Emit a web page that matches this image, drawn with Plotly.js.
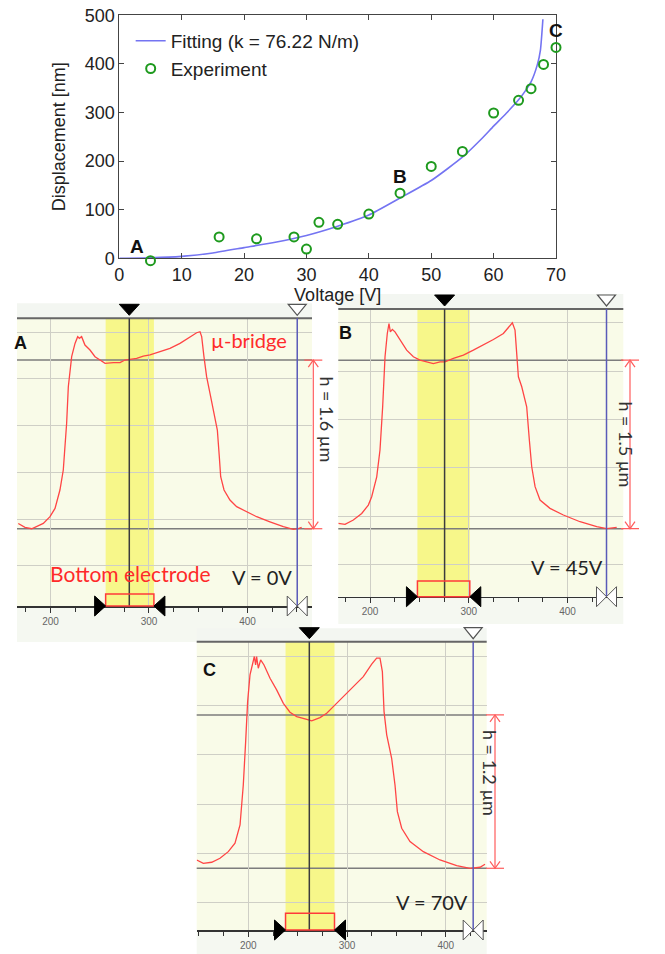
<!DOCTYPE html>
<html><head><meta charset="utf-8">
<script src="https://cdn.plot.ly/plotly-3.0.1.min.js"></script>
<style>html,body{margin:0;padding:0;background:#fff;} #chart{width:665px;height:954px;}</style>
</head><body><div id="chart"></div>
<script>
// ---------- Top chart: displacement vs voltage ----------
const voltage = [5,16,22,28,30,32,35,40,45,50,55,60,64,66,68,70];
const displacement = [-5,44,40,44,19,74,70,91,134,189,220,299,325,349,399,434];
const fitVoltage = [0,5,10,15,20,25,30,35,40,45,50,55,58,60,62,64,65,66,67,67.5,67.9];
const fitDisplacement = [0,1,4,11,22,33,47,66,89,124,160,208,245,272,298,326,343,363,398,428,492];
const stateLabels = ['A','B','C'];
const stateVoltage = [2.8,45,70];
const stateDisplacement = [25,168,469];

// ---------- Profiles (lateral position, height in µm) ----------
const profileA_x = [167.3,174.1,180.9,192.7,199.5,204.6,209.6,213,216.4,218.1,221.5,224.9,227.6,229.3,231.6,235,240.1,245.2,250.3,255.4,263.8,270.6,275.6,280.7,287.5,294.2,301,311.2,321.3,331.5,341.6,348.4,351.8,353.5,355.8,358.5,362.6,367,369.4,371.4,372.8,376.2,382.2,389,399.2,409.3,422.8,436.4,446.5,451.6,455];
const profileA_h = [0.05,0.013,0,0.05,0.114,0.193,0.367,0.557,1.0,1.347,1.632,1.758,1.822,1.806,1.822,1.742,1.695,1.632,1.6,1.569,1.575,1.575,1.6,1.607,1.616,1.638,1.648,1.679,1.711,1.758,1.822,1.859,1.869,1.822,1.632,1.442,1.252,1.031,0.936,0.683,0.493,0.367,0.272,0.209,0.161,0.114,0.066,0.019,-0.006,0,0.013];
const profileB_x = [167.9,174.7,183.1,191.6,198.3,201.7,206.8,210.1,212.8,215.2,217.5,219.2,220.6,222.6,225.3,230.4,237.1,243.9,250.6,257.4,264.1,270.9,275.9,284.4,294.5,304.6,314.7,324.9,335,341.7,344.1,346.8,348.5,350.2,353.6,358.6,361.3,363.7,367.1,372.1,382.2,395.7,412.6,429.5,439.6,449.7];
const profileB_h = [0.047,0.039,0.077,0.136,0.21,0.285,0.462,0.70,1.085,1.53,1.737,1.826,1.752,1.773,1.752,1.678,1.589,1.53,1.5,1.485,1.47,1.485,1.485,1.515,1.545,1.589,1.634,1.684,1.737,1.811,1.832,1.767,1.53,1.352,1.263,1.085,0.789,0.551,0.374,0.255,0.181,0.122,0.062,0.018,0,0.012];
const profileC_x = [147.7,154.4,162.9,171.3,179.7,186.5,191.6,194.9,197.3,199.3,201.7,204.4,206.1,207.4,208.4,210.1,212.5,215.9,222,228.7,235.5,242.2,249,257.4,264.2,272.6,279.4,286.1,296.3,306.4,316.5,325,330,333.4,335.8,337.5,340.2,345.2,348.6,351,355.4,363.8,377.3,394.2,411.1,424.6,434.7,439.8];
const profileC_h = [0.065,0.039,0.047,0.078,0.13,0.196,0.339,0.652,0.991,1.304,1.513,1.618,1.657,1.591,1.657,1.565,1.631,1.591,1.487,1.396,1.291,1.221,1.187,1.169,1.153,1.179,1.213,1.265,1.344,1.422,1.5,1.597,1.644,1.644,1.539,1.226,1.044,0.861,0.652,0.443,0.313,0.209,0.13,0.065,0.021,0,0.008,0.031];

const panelNames = ['A','B','C'];
const voltLabels = ['V = 0V','V = 45V','V = 70V'];
const heights = [1.6,1.5,1.2];
const heightLabels = ['h = 1.6 µm','h = 1.5 µm','h = 1.2 µm'];
const electrodeLo = [256,248,237.7];
const electrodeHi = [305,301,287.3];
const cursorX = [280,275.5,261.8];
const referenceX = [450.5,439.4,427.8];
const profX = [profileA_x, profileB_x, profileC_x];
const profH = [profileA_h, profileB_h, profileC_h];

// ---------- layout geometry (pixels of the 665x954 page) ----------
const W = 665, H = 954;
const px = v => v / W, py = v => 1 - v / H;
const geo = [
  {left:17, right:312, headTop:303.3, headLine:318.3, axisY:606, stripBottom:642, xr:[166,465.5], yr:[-0.733,1.996], g0:0.092, gd:0.443, bx:313.3, tx:326.7, hy:1.04, elecTop:594, lab:[169.8,1.759], volt:[415.2,-0.455]},
  {left:338.3, right:623.3, headTop:294, headLine:309, axisY:596.7, stripBottom:624, xr:[167.9,456.4], yr:[-0.605,1.955], g0:0.113, gd:0.43, bx:630, tx:639, hy:0.75, elecTop:581, lab:[174.7,1.738], volt:[398.9,-0.338]},
  {left:196.7, right:486.7, headTop:628.3, headLine:641.7, axisY:930, stripBottom:954, xr:[147.7,441.5], yr:[-0.483,1.773], g0:0.117, gd:0.386, bx:495, tx:503, hy:0.746, elecTop:913.3, lab:[160.2,1.552], volt:[385.6,-0.261]}
];
const topTop = 15.3, topBottom = 258.3, markerPad = 12; // px
const topYMax = 500;
const padUnits = topYMax * markerPad / (topBottom - topTop);

const topFont = 'Liberation Sans, Arial, sans-serif';
const panelFont = 'Lato, Open Sans, sans-serif';

const traces = [
  {x: fitVoltage, y: fitDisplacement, type:'scatter', mode:'lines', name:'Fitting (k = 76.22 N/m)',
   line:{color:'#7474f2', width:1.6, shape:'spline', smoothing:0.5}, xaxis:'x', yaxis:'y', hoverinfo:'skip'},
  {x: voltage, y: displacement, type:'scatter', mode:'markers', name:'Experiment',
   marker:{symbol:'circle-open', size:9, color:'#1e9a1e', line:{width:2, color:'#1e9a1e'}}, cliponaxis:false, xaxis:'x', yaxis:'y5', hoverinfo:'skip'}
];

const axBase = {ticks:'inside', ticklen:5, tickcolor:'#444', showline:true, mirror:'ticks', linecolor:'#444', linewidth:1,
  showgrid:false, zeroline:false, tickfont:{family:topFont, size:18, color:'#222'}};
const layout = {
  width: W, height: H, margin:{l:0,r:0,t:0,b:0},
  paper_bgcolor:'#ffffff', plot_bgcolor:'rgba(0,0,0,0)',
  showlegend: true,
  legend:{x:0.1965, y:0.977, xanchor:'left', yanchor:'top', bgcolor:'rgba(0,0,0,0)', font:{family:topFont, size:19, color:'#222'}, tracegroupgap:0},
  xaxis:Object.assign({domain:[119.3/W, 556/W], range:[0,70], dtick:10, anchor:'y',
         title:{text:'Voltage [V]', font:{family:topFont, size:18, color:'#222'}, standoff:0}}, axBase),
  yaxis:Object.assign({domain:[py(topBottom), py(topTop)], range:[0,topYMax], dtick:100, anchor:'x',
         title:{text:'Displacement [nm]', font:{family:topFont, size:18, color:'#222'}, standoff:14}}, axBase),
  // invisible twin of the displacement axis, same scale, a little taller so the point just below 0 is kept
  yaxis5:{domain:[py(topBottom + markerPad), py(topTop)], range:[-padUnits, topYMax], visible:false, anchor:'free', position:0, showgrid:false, zeroline:false},
  shapes: [], annotations: []
};

stateLabels.forEach((t, i) => layout.annotations.push({xref:'x', yref:'y', x:stateVoltage[i], y:stateDisplacement[i], text:'<b>'+t+'</b>', showarrow:false, font:{family:topFont, size:19, color:'#111'}}));

geo.forEach((g, i) => {
  const k = i + 2, xa = 'x' + k, ya = 'y' + k;
  traces.push({x: profX[i], y: profH[i], type:'scatter', mode:'lines', line:{color:'#ff4545', width:1.3}, xaxis:xa, yaxis:ya, showlegend:false, hoverinfo:'skip'});
  layout['xaxis' + k] = {domain:[px(g.left), px(g.right)], range:g.xr, anchor:ya, tick0:0, dtick:100, ticks:'outside', ticklen:5, tickcolor:'#333',
    showline:true, linecolor:'#333', linewidth:1.5, showgrid:true, gridcolor:'#cfcfc6', gridwidth:1, zeroline:false,
    minor:{dtick:25, ticks:'outside', ticklen:4, tickcolor:'#333', showgrid:false},
    tickfont:{family:'Liberation Sans, Arial, sans-serif', size:10, color:'#666'}};
  layout['yaxis' + k] = {domain:[py(g.axisY), py(g.headLine)], range:g.yr, anchor:xa, tickmode:'linear', tick0:g.g0, dtick:g.gd,
    showticklabels:false, ticks:'', showgrid:true, gridcolor:'#cfcfc6', gridwidth:1, zeroline:false, showline:false};

  const S = layout.shapes;
  const x0 = px(g.left), x1 = px(g.right);
  const ux = (g.xr[1] - g.xr[0]) / (g.right - g.left);
  const uy = (g.yr[1] - g.yr[0]) / (g.axisY - g.headLine);
  // backgrounds
  S.push({type:'rect', xref:'paper', yref:'paper', x0:x0, x1:x1, y0:py(g.axisY), y1:py(g.headLine), fillcolor:'#f9fbe8', line:{width:0}, layer:'below'});
  S.push({type:'rect', xref:'paper', yref:'paper', x0:x0, x1:x1, y0:py(g.headLine), y1:py(g.headTop), fillcolor:'#f3f6f1', line:{width:0}, layer:'below'});
  S.push({type:'rect', xref:'paper', yref:'paper', x0:x0, x1:x1, y0:py(g.stripBottom), y1:py(g.axisY), fillcolor:'#f5f8f1', line:{width:0}, layer:'below'});
  // electrode band
  S.push({type:'rect', xref:xa, yref:ya + ' domain', x0:electrodeLo[i], x1:electrodeHi[i], y0:0, y1:1, fillcolor:'#f7f78a', line:{width:0}, layer:'below'});
  // level lines at 0 and h
  [0, heights[i]].forEach(v => S.push({type:'line', xref:xa + ' domain', yref:ya, x0:0, x1:1, y0:v, y1:v, line:{color:'#7d7d7d', width:1.5}, layer:'below'}));
  // header line
  S.push({type:'line', xref:'paper', yref:'paper', x0:x0, x1:x1, y0:py(g.headLine), y1:py(g.headLine), line:{color:'#666', width:2}, layer:'above'});
  // cursor + reference lines
  S.push({type:'line', xref:xa, yref:ya + ' domain', x0:cursorX[i], x1:cursorX[i], y0:0, y1:1, line:{color:'#3c3c3c', width:1.5}, layer:'above'});
  S.push({type:'line', xref:xa, yref:ya + ' domain', x0:referenceX[i], x1:referenceX[i], y0:0, y1:1, line:{color:'#5a5ab8', width:1.5}, layer:'above'});
  // electrode rectangle
  S.push({type:'rect', xref:xa, yref:'paper', x0:electrodeLo[i], x1:electrodeHi[i], y0:py(g.axisY), y1:py(g.elecTop), fillcolor:'rgba(0,0,0,0)', line:{color:'#ff3a3a', width:1.5}, layer:'above'});
  const path = pts => 'M' + pts.map(p => p[0] + ',' + p[1]).join(' L') + ' Z';
  const yA = py(g.axisY), yU = py(g.axisY - 10), yD = py(g.axisY + 10);
  // black bottom triangles
  S.push({type:'path', xref:xa, yref:'paper', path:path([[electrodeLo[i], yA], [electrodeLo[i] - 11*ux, yU], [electrodeLo[i] - 11*ux, yD]]), fillcolor:'#000', line:{color:'#000', width:1}, layer:'above'});
  S.push({type:'path', xref:xa, yref:'paper', path:path([[electrodeHi[i], yA], [electrodeHi[i] + 11*ux, yU], [electrodeHi[i] + 11*ux, yD]]), fillcolor:'#000', line:{color:'#000', width:1}, layer:'above'});
  // bow-tie at reference
  S.push({type:'path', xref:xa, yref:'paper', path:path([[referenceX[i], yA], [referenceX[i] - 10*ux, yU], [referenceX[i] - 10*ux, yD]]), fillcolor:'#fff', line:{color:'#555', width:1}, layer:'above'});
  S.push({type:'path', xref:xa, yref:'paper', path:path([[referenceX[i], yA], [referenceX[i] + 10*ux, yU], [referenceX[i] + 10*ux, yD]]), fillcolor:'#fff', line:{color:'#555', width:1}, layer:'above'});
  // header triangles
  const hT = py(g.headLine - 14), hB = py(g.headLine - 3);
  S.push({type:'path', xref:xa, yref:'paper', path:path([[cursorX[i] - 10*ux, hT], [cursorX[i] + 10*ux, hT], [cursorX[i], hB]]), fillcolor:'#000', line:{color:'#000', width:1}, layer:'above'});
  S.push({type:'path', xref:xa, yref:'paper', path:path([[referenceX[i] - 9*ux, hT], [referenceX[i] + 9*ux, hT], [referenceX[i], hB]]), fillcolor:'#fff', line:{color:'#555', width:1.2}, layer:'above'});
  // height bracket
  const bxp = px(g.bx), bw = 9 / W, aw = 5 / W;
  const red = {color:'#ff5c5c', width:1.2};
  S.push({type:'line', xref:'paper', yref:ya, x0:bxp, x1:bxp, y0:0, y1:heights[i], line:red, layer:'above'});
  [0, heights[i]].forEach((v, j) => {
    const s = j === 0 ? 1 : -1;
    S.push({type:'line', xref:'paper', yref:ya, x0:bxp - bw, x1:bxp + bw, y0:v, y1:v, line:red, layer:'above'});
    S.push({type:'path', xref:'paper', yref:ya, path:'M' + (bxp - aw) + ',' + (v + s*7*uy) + ' L' + bxp + ',' + v + ' L' + (bxp + aw) + ',' + (v + s*7*uy), line:red, layer:'above'});
  });
  // texts
  const A = layout.annotations;
  A.push({xref:'paper', yref:ya, x:px(g.tx), y:g.hy, text:heightLabels[i], textangle:90, showarrow:false, font:{family:panelFont, size:18, color:'#333'}});
  A.push({xref:xa, yref:ya, x:g.lab[0], y:g.lab[1], text:'<b>' + panelNames[i] + '</b>', showarrow:false, font:{family:topFont, size:18, color:'#111'}});
  A.push({xref:xa, yref:ya, x:g.volt[0], y:g.volt[1], text:voltLabels[i], showarrow:false, font:{family:panelFont, size:20, color:'#222'}});
});
layout.annotations.push({xref:'x2', yref:'y2', x:402, y:1.79, text:'µ-bridge', showarrow:false, font:{family:panelFont, size:20, color:'#ff2a2a'}});
layout.annotations.push({xref:'x2', yref:'y2', x:281.7, y:-0.423, text:'Bottom electrode', showarrow:false, font:{family:panelFont, size:21, color:'#ff2a2a'}});

Plotly.newPlot('chart', traces, layout, {staticPlot:true, displayModeBar:false});
</script></body></html>
